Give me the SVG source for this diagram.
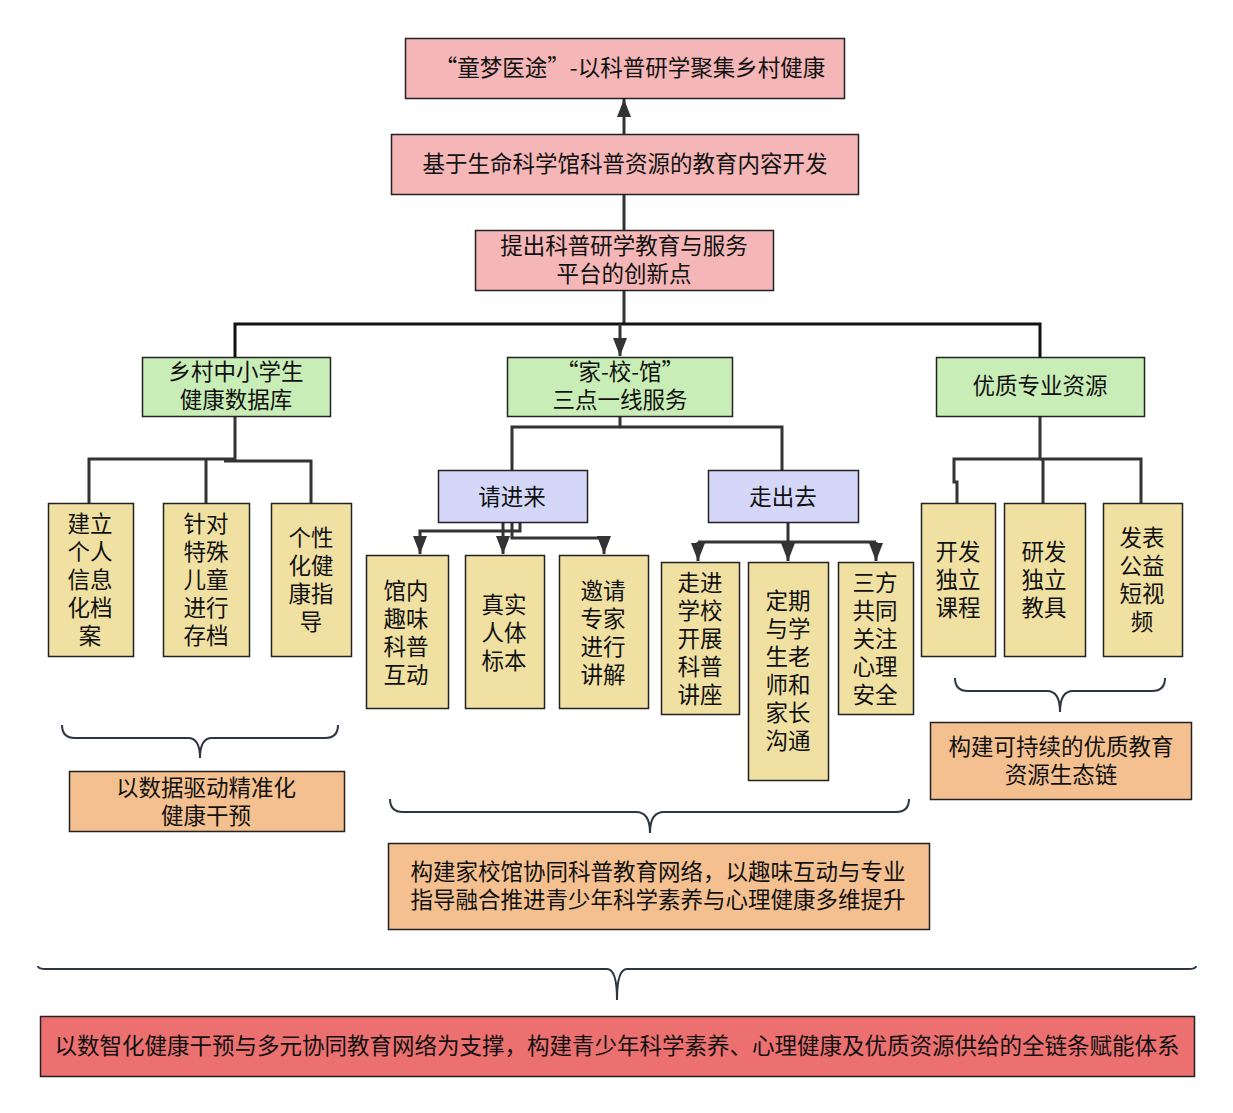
<svg xmlns="http://www.w3.org/2000/svg" width="1233" height="1113" viewBox="0 0 1233 1113">
<style>
text{font-family:"Noto Sans CJK SC","Noto Sans",sans-serif;font-size:22.5px;fill:#111;text-anchor:middle;dominant-baseline:central;transform:translate(0px,-2px)}
.box{stroke:#222;stroke-width:1.5}
.pink{fill:#F4B6B6}.green{fill:#C9EDB6}.yellow{fill:#F0E1A3}.blue{fill:#D4D7F8}.orange{fill:#F4C08F}.red{fill:#EC7070}
.ln{fill:none;stroke:#333;stroke-width:3}
.brace{fill:none;stroke:#2d3540;stroke-width:2}
</style>
<defs>
<marker id="ah" viewBox="0 0 18 14" refX="18" refY="7" markerWidth="18" markerHeight="14" markerUnits="userSpaceOnUse" orient="auto">
<path d="M0,0 L18,7 L0,14 z" fill="#333"/>
</marker>
</defs>
<rect width="1233" height="1113" fill="#fff"/>

<g id="connectors">
<path class="ln" d="M624 134 V99" marker-end="url(#ah)"/>
<path class="ln" d="M624 195 V230"/>
<path class="ln" d="M624 291 V324"/>
<path class="ln" d="M235 357 V324 H1040 V357" style="stroke:#111"/>
<path class="ln" d="M620 324 V356" marker-end="url(#ah)"/>
<path class="ln" d="M235 417 V459 H89 V503"/>
<path class="ln" d="M206 459 V503"/>
<path class="ln" d="M224 461 H311 V503"/>
<path class="ln" d="M620 417 V427 H512 V470"/>
<path class="ln" d="M620 427 H782 V470"/>
<path class="ln" d="M520 522 V531 H420 V554" marker-end="url(#ah)"/>
<path class="ln" d="M503 522 V554" marker-end="url(#ah)"/>
<path class="ln" d="M512 522 V538 H604 V554" marker-end="url(#ah)"/>
<path class="ln" d="M788 522 V542"/>
<path class="ln" d="M698 542 H876"/>
<path class="ln" d="M698 542 V561" marker-end="url(#ah)"/>
<path class="ln" d="M788 542 V561" marker-end="url(#ah)"/>
<path class="ln" d="M876 542 V561" marker-end="url(#ah)"/>
<path class="ln" d="M1040 417 V459 H954 V482 H957 V503"/>
<path class="ln" d="M1043 459 V503"/>
<path class="ln" d="M1040 459 H1141 V503"/>
<path class="brace" d="M62 725 Q62 738 75 738 H188 Q200 738 200 758 Q200 738 212 738 H325 Q338 738 338 725"/>
<path class="brace" d="M390 799 Q390 812 403 812 H636 Q650 812 650 833 Q650 812 664 812 H896 Q909 812 909 799"/>
<path class="brace" d="M955 678 Q955 691 968 691 H1047 Q1060 691 1060 712 Q1060 691 1073 691 H1152 Q1165 691 1165 678"/>
<path class="brace" d="M38 966 Q38 969 46 969 H607 Q617 969 617 1000 Q617 969 627 969 H1188 Q1196 969 1196 966"/>
</g>

<g id="n_title"><rect class="box pink" x="405.5" y="38.5" width="439" height="60"/><text x="630" y="68">“童梦医途”-以科普研学聚集乡村健康</text></g>
<g id="n_dev"><rect class="box pink" x="391.5" y="134.5" width="467" height="60"/><text x="625" y="164">基于生命科学馆科普资源的教育内容开发</text></g>
<g id="n_innov"><rect class="box pink" x="475.5" y="230.5" width="298" height="60"/><text x="624" y="246">提出科普研学教育与服务<tspan x="624" dy="28">平台的创新点</tspan></text></g>

<g id="n_db"><rect class="box green" x="142.5" y="357.5" width="188" height="59"/><text x="236" y="372">乡村中小学生<tspan x="236" dy="28">健康数据库</tspan></text></g>
<g id="n_jxg"><rect class="box green" x="507.5" y="357.5" width="225" height="59"/><text x="620" y="372">“家-校-馆”<tspan x="620" dy="28">三点一线服务</tspan></text></g>
<g id="n_res"><rect class="box green" x="936.5" y="357.5" width="208" height="59"/><text x="1040" y="386">优质专业资源</text></g>

<g id="n_a1"><rect class="box yellow" x="48.5" y="503.5" width="85" height="153"/><text x="90" y="524">建立<tspan x="90" dy="28">个人</tspan><tspan x="90" dy="28">信息</tspan><tspan x="90" dy="28">化档</tspan><tspan x="90" dy="28">案</tspan></text></g>
<g id="n_a2"><rect class="box yellow" x="163.5" y="503.5" width="86" height="153"/><text x="206" y="524">针对<tspan x="206" dy="28">特殊</tspan><tspan x="206" dy="28">儿童</tspan><tspan x="206" dy="28">进行</tspan><tspan x="206" dy="28">存档</tspan></text></g>
<g id="n_a3"><rect class="box yellow" x="271.5" y="503.5" width="80" height="153"/><text x="311" y="538">个性<tspan x="311" dy="28">化健</tspan><tspan x="311" dy="28">康指</tspan><tspan x="311" dy="28">导</tspan></text></g>

<g id="n_in"><rect class="box blue" x="438.5" y="470.5" width="149" height="52"/><text x="512" y="497">请进来</text></g>
<g id="n_out"><rect class="box blue" x="708.5" y="470.5" width="150" height="52"/><text x="783" y="497">走出去</text></g>

<g id="n_b1"><rect class="box yellow" x="366.5" y="555.5" width="82" height="153"/><text x="406" y="591">馆内<tspan x="406" dy="28">趣味</tspan><tspan x="406" dy="28">科普</tspan><tspan x="406" dy="28">互动</tspan></text></g>
<g id="n_b2"><rect class="box yellow" x="465.5" y="555.5" width="79" height="153"/><text x="504" y="605">真实<tspan x="504" dy="28">人体</tspan><tspan x="504" dy="28">标本</tspan></text></g>
<g id="n_b3"><rect class="box yellow" x="559.5" y="555.5" width="89" height="153"/><text x="603" y="591">邀请<tspan x="603" dy="28">专家</tspan><tspan x="603" dy="28">进行</tspan><tspan x="603" dy="28">讲解</tspan></text></g>

<g id="n_c1"><rect class="box yellow" x="661.5" y="562.5" width="78" height="152"/><text x="700" y="583">走进<tspan x="700" dy="28">学校</tspan><tspan x="700" dy="28">开展</tspan><tspan x="700" dy="28">科普</tspan><tspan x="700" dy="28">讲座</tspan></text></g>
<g id="n_c2"><rect class="box yellow" x="748.5" y="562.5" width="80" height="218"/><text x="788" y="601">定期<tspan x="788" dy="28">与学</tspan><tspan x="788" dy="28">生老</tspan><tspan x="788" dy="28">师和</tspan><tspan x="788" dy="28">家长</tspan><tspan x="788" dy="28">沟通</tspan></text></g>
<g id="n_c3"><rect class="box yellow" x="838.5" y="562.5" width="75" height="152"/><text x="875" y="583">三方<tspan x="875" dy="28">共同</tspan><tspan x="875" dy="28">关注</tspan><tspan x="875" dy="28">心理</tspan><tspan x="875" dy="28">安全</tspan></text></g>

<g id="n_d1"><rect class="box yellow" x="921.5" y="503.5" width="74" height="153"/><text x="958" y="552">开发<tspan x="958" dy="28">独立</tspan><tspan x="958" dy="28">课程</tspan></text></g>
<g id="n_d2"><rect class="box yellow" x="1004.5" y="503.5" width="81" height="153"/><text x="1044" y="552">研发<tspan x="1044" dy="28">独立</tspan><tspan x="1044" dy="28">教具</tspan></text></g>
<g id="n_d3"><rect class="box yellow" x="1103.5" y="503.5" width="79" height="153"/><text x="1142" y="538">发表<tspan x="1142" dy="28">公益</tspan><tspan x="1142" dy="28">短视</tspan><tspan x="1142" dy="28">频</tspan></text></g>

<g id="n_s1"><rect class="box orange" x="69.5" y="771.5" width="275" height="60"/><text x="206" y="788">以数据驱动精准化<tspan x="206" dy="28">健康干预</tspan></text></g>
<g id="n_s2"><rect class="box orange" x="388.5" y="843.5" width="541" height="86"/><text x="658" y="872">构建家校馆协同科普教育网络，以趣味互动与专业<tspan x="658" dy="28">指导融合推进青少年科学素养与心理健康多维提升</tspan></text></g>
<g id="n_s3"><rect class="box orange" x="930.5" y="722.5" width="261" height="77"/><text x="1061" y="747">构建可持续的优质教育<tspan x="1061" dy="28">资源生态链</tspan></text></g>
<g id="n_final"><rect class="box red" x="40.5" y="1016.5" width="1154" height="60"/><text x="617" y="1046">以数智化健康干预与多元协同教育网络为支撑，构建青少年科学素养、心理健康及优质资源供给的全链条赋能体系</text></g>
</svg>
